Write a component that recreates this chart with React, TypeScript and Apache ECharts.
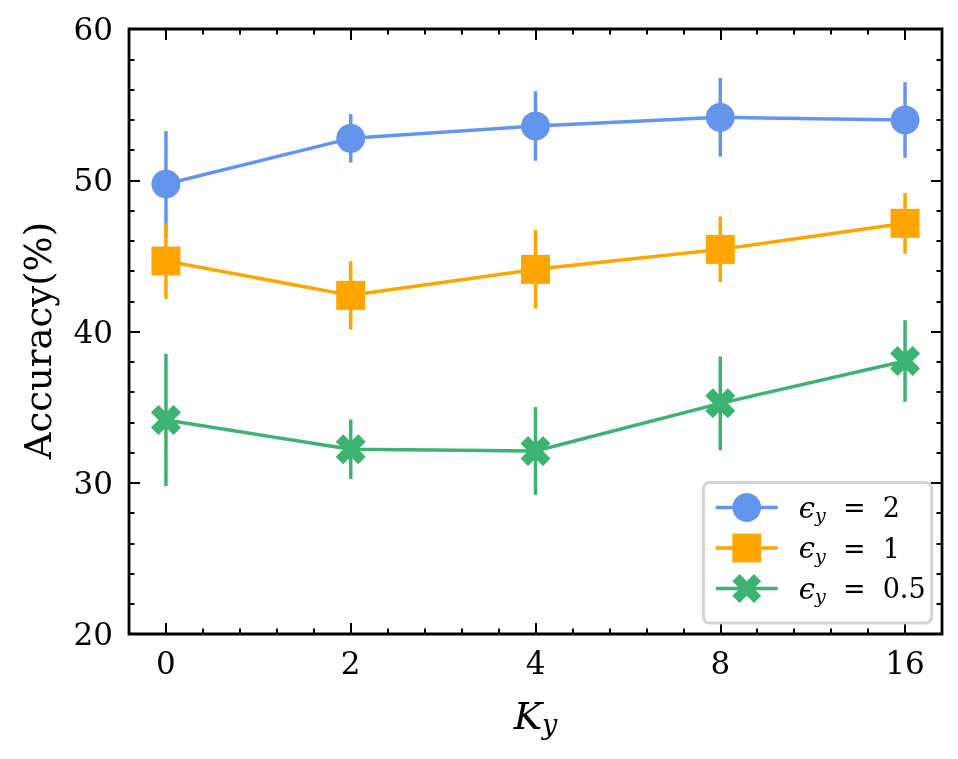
import React, { useEffect, useRef } from 'react';
import * as echarts from 'echarts';

// ---- data ----
const K_LABELS = ['0', '2', '4', '8', '16'];
const K_POS = [0, 1, 2, 3, 4];
const EPS_VALUES = ['2', '1', '0.5'];
const EPS2_MEAN = [49.75, 52.77, 53.59, 54.16, 53.98];
const EPS2_ERR = [3.5, 1.6, 2.3, 2.6, 2.5];
const EPS1_MEAN = [44.66, 42.39, 44.11, 45.43, 47.15];
const EPS1_ERR = [2.5, 2.27, 2.6, 2.17, 2.0];
const EPS05_MEAN = [34.15, 32.21, 32.1, 35.25, 38.05];
const EPS05_ERR = [4.37, 1.97, 2.9, 3.1, 2.7];
const Y_TICKS = [20, 30, 40, 50, 60];
const X_MINOR_TICKS = [0.2, 0.4, 0.6, 0.8, 1.2, 1.4, 1.6, 1.8, 2.2, 2.4, 2.6, 2.8, 3.2, 3.4, 3.6, 3.8];

const COLORS = ['#6495ED', '#FFA500', '#3CB371'];
const SYMBOLS = [
  'circle',
  'rect',
  'path://M75 0L100 25L75 50L100 75L75 100L50 75L25 100L0 75L25 50L0 25L25 0L50 25Z',
];
const SYMBOL_SIZES = [29, 29, 30];
const FONT = 'DejaVu Serif';

export default function App() {
  const ref = useRef<HTMLDivElement>(null);

  useEffect(() => {
    if (!ref.current) return;
    const chart = echarts.init(ref.current, null, { renderer: 'svg' });

    const means = [EPS2_MEAN, EPS1_MEAN, EPS05_MEAN];
    const errs = [EPS2_ERR, EPS1_ERR, EPS05_ERR];
    const names = EPS_VALUES.map((v) => `ϵ_y = ${v}`);

    const series: any[] = [];
    means.forEach((m, si) => {
      const color = COLORS[si];
      series.push({
        type: 'custom',
        xAxisIndex: 0,
        yAxisIndex: 0,
        data: K_POS.map((x, i) => [x, m[i] - errs[si][i], m[i] + errs[si][i]]),
        encode: { x: 0, y: [1, 2] },
        renderItem: (params: any, api: any) => {
          const x = api.value(0);
          const p1 = api.coord([x, api.value(1)]);
          const p2 = api.coord([x, api.value(2)]);
          return {
            type: 'line',
            shape: { x1: p1[0], y1: p1[1], x2: p2[0], y2: p2[1] },
            style: { stroke: color, lineWidth: 3.5 },
          };
        },
        silent: true,
      });
      series.push({
        type: 'line',
        name: names[si],
        xAxisIndex: 0,
        yAxisIndex: 0,
        data: K_POS.map((x, i) => [x, m[i]]),
        symbol: SYMBOLS[si],
        symbolSize: SYMBOL_SIZES[si],
        showAllSymbol: true,
        lineStyle: { color, width: 3.5 },
        itemStyle: { color, opacity: 1 },
        emphasis: { disabled: true },
      });
    });

    const tickStyle = { color: '#000', width: 2 };
    const majorTickX = {
      show: true,
      inside: true,
      length: 11,
      lineStyle: tickStyle,
      customValues: K_POS,
    };
    const minorTickX = {
      show: true,
      inside: true,
      length: 5.5,
      lineStyle: tickStyle,
      customValues: X_MINOR_TICKS,
    };
    const baseX = {
      type: 'value',
      min: -0.2,
      max: 4.2,
      axisLine: { show: false, onZero: false },
      splitLine: { show: false },
    };
    const baseY = {
      type: 'value',
      min: Y_TICKS[0],
      max: Y_TICKS[Y_TICKS.length - 1],
      interval: 10,
      axisLine: { show: false, onZero: false },
      splitLine: { show: false },
      axisTick: { show: true, inside: true, length: 11, lineStyle: tickStyle },
      minorTick: { show: true, splitNumber: 5, length: 5.5, lineStyle: tickStyle },
    };

    chart.setOption({
      animation: false,
      textStyle: { fontFamily: FONT },
      grid: {
        left: 129,
        top: 29,
        width: 813,
        height: 605,
        show: true,
        borderColor: '#000',
        borderWidth: 2.8,
        backgroundColor: 'transparent',
      },
      legend: {
        data: names,
        left: 703.5,
        top: 482.5,
        orient: 'vertical',
        itemWidth: 62,
        itemHeight: 36,
        itemGap: 9,
        padding: [10.5, 6, 17.5, 10.5],
        backgroundColor: '#ffffff',
        borderColor: '#d4d4d4',
        borderWidth: 3,
        borderRadius: 6,
        selectedMode: false,
        lineStyle: { width: 3.5 },
        formatter: (name: string) => {
          const v = name.split('= ')[1];
          return `{e|ϵ}{s|y}{t|  =  ${v}}`;
        },
        textStyle: {
          fontFamily: FONT,
          fontSize: 27,
          color: '#000',
          rich: {
            e: { fontFamily: FONT, fontStyle: 'italic', fontSize: 29, lineHeight: 34, color: '#000', padding: [0, 0, 0, 16] },
            s: { fontFamily: FONT, fontStyle: 'italic', fontSize: 19, lineHeight: 20, verticalAlign: 'bottom', color: '#000' },
            t: { fontFamily: FONT, fontSize: 27, lineHeight: 34, color: '#000' },
          },
        },
      },
      xAxis: [
        {
          ...baseX,
          position: 'bottom',
          axisTick: majorTickX,
          axisLabel: {
            show: true,
            customValues: K_POS,
            formatter: (v: number) => K_LABELS[Math.round(v)] ?? '',
            fontFamily: FONT,
            fontSize: 31,
            color: '#000',
            margin: 13,
          },
          name: '{k|K}{s|y}',
          nameLocation: 'middle',
          nameGap: 60,
          nameTextStyle: {
            rich: {
              k: { fontFamily: FONT, fontStyle: 'italic', fontSize: 38, lineHeight: 44, color: '#000' },
              s: { fontFamily: FONT, fontStyle: 'italic', fontSize: 27, lineHeight: 26, verticalAlign: 'bottom', color: '#000' },
            },
          },
        },
        { ...baseX, position: 'bottom', axisTick: minorTickX, axisLabel: { show: false } },
        { ...baseX, position: 'top', axisTick: majorTickX, axisLabel: { show: false } },
        { ...baseX, position: 'top', axisTick: minorTickX, axisLabel: { show: false } },
      ],
      yAxis: [
        {
          ...baseY,
          position: 'left',
          axisLabel: { show: true, fontFamily: FONT, fontSize: 31, color: '#000', margin: 16 },
          name: 'Accuracy(%)',
          nameLocation: 'middle',
          nameRotate: 90,
          nameGap: 72,
          nameTextStyle: { fontFamily: FONT, fontSize: 37, color: '#000', padding: [0, 18, 0, 0] },
        },
        { ...baseY, position: 'right', axisLabel: { show: false } },
      ],
      series,
    });

    return () => chart.dispose();
  }, []);

  return <div ref={ref} style={{ position: 'fixed', left: 0, top: 0, width: 958, height: 759 }} />;
}
